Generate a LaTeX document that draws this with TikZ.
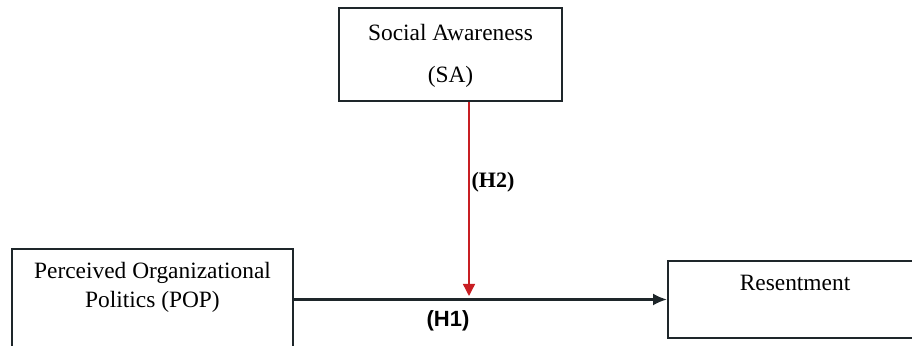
\documentclass[tikz,border=0pt]{standalone}
\usepackage{fontspec}
\setmainfont{Liberation Serif}
\setsansfont{Liberation Sans}
\usetikzlibrary{arrows.meta}
\definecolor{boxline}{RGB}{30,38,42}
\definecolor{modred}{RGB}{200,30,35}
\tikzset{
  box/.style={draw=boxline,line width=1pt,rectangle,inner sep=0pt},
  txt/.style={font=\fontsize{11.7}{14.5}\selectfont,align=center,inner sep=0pt}
}
\begin{document}
\begin{tikzpicture}[x=0.5pt,y=-0.5pt]
    \useasboundingbox (0,0) rectangle (912,346);
    % boxes
    \node[box,minimum width=111.5pt,minimum height=46.5pt] (SA) at (450.5,54.5) {};
    \node[box,minimum width=140.5pt,minimum height=55.5pt] (POP) at (152.5,304.5) {};
    \node[box,minimum width=131pt,minimum height=38.5pt] (Res) at (799,299.5) {};

    % texts
    \node[txt] (SAt1) at (450.5,33) {Social Awareness};
    \node[txt] (SAt2) at (450.5,77) {(SA)};
    \node[txt] (POPt) at (152.5,287.5) {Perceived Organizational\\Politics (POP)};
    \node[txt] (Rest) at (795,283) {Resentment};

    % main effect
    \draw[line width=1.1pt,draw=boxline,-{Latex[length=7pt,width=6pt]}] (POP.east |- Res.west) -- (Res.west);
    \node[font=\sffamily\bfseries\fontsize{11}{13}\selectfont,inner sep=0pt] (H1) at (448,321) {(H1)};

    % moderation
    \coordinate (meet) at (469,299);
    \draw[modred,line width=0.7pt,-{Triangle[length=6pt,width=6pt]},shorten >=1.5pt] (meet |- SA.south) -- (meet);
    \node[font=\bfseries\fontsize{11}{13}\selectfont,inner sep=0pt] (H2) at (493,182) {(H2)};
\end{tikzpicture}
\end{document}
